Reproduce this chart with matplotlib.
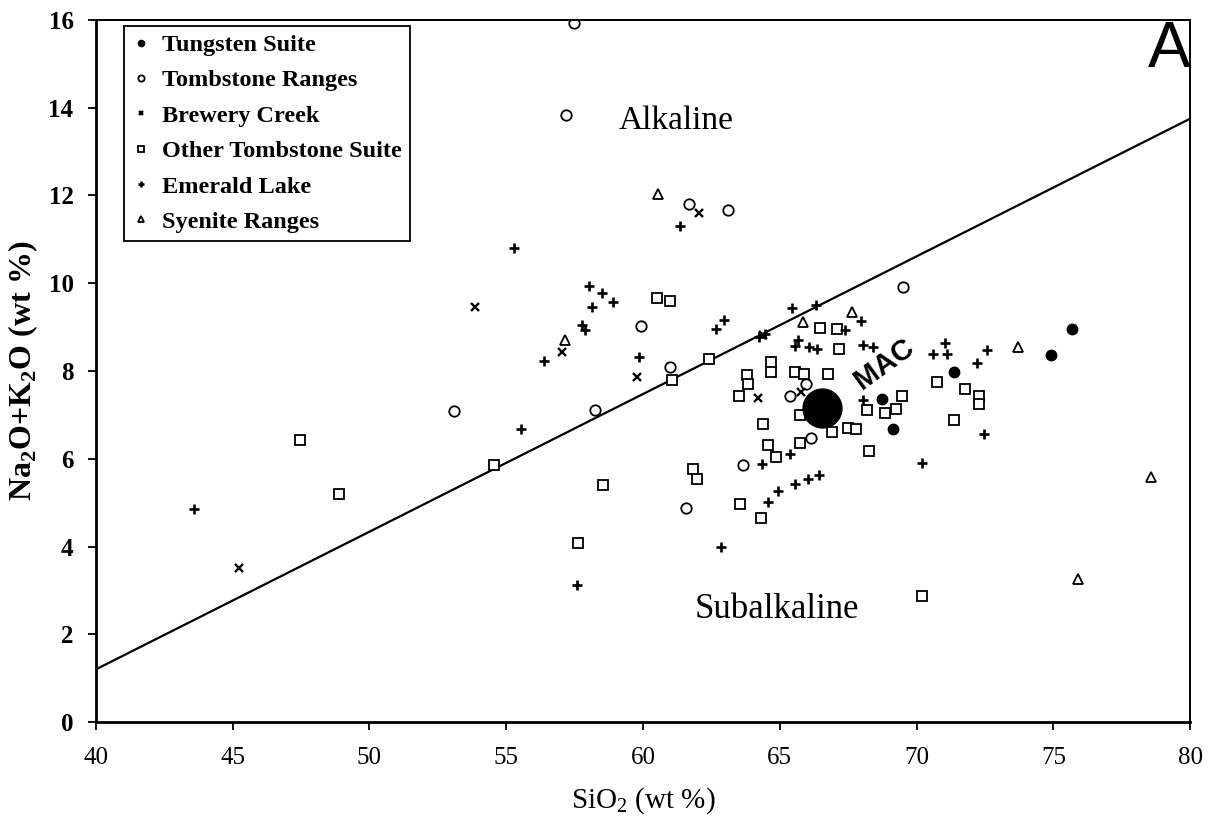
import matplotlib
matplotlib.use("Agg")
import matplotlib.pyplot as plt

plt.rcParams['font.family'] = ['Liberation Serif', 'DejaVu Serif']
plt.rcParams['mathtext.fontset'] = 'custom'
plt.rcParams['mathtext.rm'] = 'Liberation Serif'
plt.rcParams['mathtext.bf'] = 'Liberation Serif:bold'

# Tungsten Suite (filled circles)
tungsten_x = [68.72, 69.13, 71.38, 74.92, 75.67]
tungsten_y = [7.37, 6.67, 7.98, 8.36, 8.95]

# Tombstone Ranges (open circles)
tombstone_x = [57.48, 57.2, 61.68, 63.1, 59.94, 69.52, 53.1, 58.24, 61.0,
               65.96, 65.37, 61.57, 63.64, 66.14]
tombstone_y = [15.92, 13.83, 11.80, 11.66, 9.03, 9.92, 7.09, 7.12, 8.08,
               7.70, 7.43, 4.87, 5.85, 6.48]

# Brewery Creek (x)
brewery_x = [62.05, 53.86, 57.05, 59.77, 64.2, 65.76, 45.24, 64.4]
brewery_y = [11.59, 9.45, 8.44, 7.87, 7.39, 7.52, 3.50, 8.82]

# Other Tombstone Suite (open squares)
other_x = [60.5, 61.0, 62.42, 61.07, 63.79, 63.85, 63.51, 64.68, 64.68,
           65.56, 65.9, 66.75, 66.47, 67.08, 67.17, 64.37, 65.74, 64.58,
           64.86, 65.74, 61.84, 61.96, 58.55, 63.55, 64.3, 66.92, 67.5,
           67.8, 68.27, 69.45, 69.24, 68.85, 68.18, 70.74, 71.35, 71.77,
           72.28, 72.29, 70.19, 57.63, 54.56, 47.46, 48.88]
other_y = [9.67, 9.59, 8.28, 7.79, 7.90, 7.71, 7.43, 8.20, 7.98,
           7.98, 7.94, 7.94, 8.99, 8.95, 8.50, 6.79, 6.99, 6.31,
           6.04, 6.36, 5.76, 5.55, 5.40, 4.97, 4.66, 6.61, 6.71,
           6.69, 6.17, 7.43, 7.14, 7.05, 7.11, 7.75, 6.89, 7.58,
           7.43, 7.24, 2.87, 4.09, 5.85, 6.42, 5.19]

# Emerald Lake (+)
emerald_x = [61.36, 55.28, 58.04, 58.5, 58.9, 58.15, 57.76, 57.88, 56.37,
             62.68, 62.96, 59.84, 65.43, 66.33, 64.25, 64.45, 67.38, 67.97,
             65.68, 65.56, 66.08, 66.35, 68.05, 68.42, 71.04, 70.6, 71.1,
             72.59, 72.22, 68.05, 72.48, 70.19, 65.37, 64.36, 64.58, 64.92,
             65.56, 66.04, 66.45, 55.53, 43.58, 62.87, 57.58]
emerald_y = [11.31, 10.81, 9.94, 9.78, 9.57, 9.45, 9.04, 8.93, 8.22,
             8.95, 9.16, 8.32, 9.44, 9.50, 8.78, 8.85, 8.93, 9.14,
             8.70, 8.56, 8.55, 8.51, 8.59, 8.55, 8.63, 8.39, 8.39,
             8.47, 8.18, 7.33, 6.56, 5.91, 6.12, 5.88, 5.02, 5.27,
             5.42, 5.53, 5.63, 6.67, 4.85, 3.98, 3.12]

# Syenite Ranges (triangles)
syenite_x = [60.56, 57.16, 65.86, 67.65, 73.7, 78.56, 75.9]
syenite_y = [12.04, 8.70, 9.12, 9.35, 8.55, 5.59, 3.25]

# MAC average
mac_x = [66.55]
mac_y = [7.15]

# alkaline / subalkaline divide
line_x = [40, 80]
line_y = [1.2, 13.75]

fig = plt.figure(figsize=(12.12, 8.3), dpi=100)
ax = fig.add_axes([0.079, 0.130, 0.903, 0.846])

ms = 7.5
mew = 1.3
ax.plot(line_x, line_y, color='black', lw=1.6, zorder=1)
ax.plot(tungsten_x, tungsten_y, 'o', color='black', ms=ms, label='Tungsten Suite')
ax.plot(tombstone_x, tombstone_y, 'o', mfc='white', mec='black', mew=mew, ms=ms,
        label='Tombstone Ranges')
ax.plot(brewery_x, brewery_y, 'x', color='black', mew=mew + 0.4, ms=ms - 1.5,
        label='Brewery Creek')
ax.plot(other_x, other_y, 's', mfc='white', mec='black', mew=mew, ms=ms,
        label='Other Tombstone Suite')
ax.plot(emerald_x, emerald_y, '+', color='black', mew=mew + 0.6, ms=ms - 1,
        label='Emerald Lake')
ax.plot(syenite_x, syenite_y, '^', mfc='white', mec='black', mew=mew, ms=ms,
        label='Syenite Ranges')
ax.plot(mac_x, mac_y, 'o', color='black', ms=28, zorder=5)

ax.set_xlim(40, 80)
ax.set_ylim(0, 16)
ax.set_xticks(range(40, 81, 5))
ax.set_yticks(range(0, 17, 2))
ax.tick_params(direction='out', length=6, width=1.3, labelsize=18)
ax.tick_params(axis='x', pad=12)
ax.tick_params(axis='y', pad=10)
for lab in ax.get_yticklabels():
    lab.set_fontweight('bold')
for side in ['left', 'bottom']:
    ax.spines[side].set_linewidth(2)
for side in ['top', 'right']:
    ax.spines[side].set_linewidth(1.4)

ax.set_xlabel('SiO$_2$ (wt %)', fontsize=21, labelpad=12)
ax.set_ylabel(r'Na$_\mathbf{2}$O+K$_\mathbf{2}$O (wt %)', fontsize=23,
              fontweight='bold', labelpad=6)

ax.text(61.2, 13.7, 'Alkaline', fontsize=24, ha='center', va='center')
ax.text(64.9, 2.57, 'Subalkaline', fontsize=25, ha='center', va='center')
ax.text(68.8, 8.15, 'MAC', fontsize=21, fontweight='bold', rotation=36,
        family='Liberation Sans', ha='center', va='center')
ax.text(1.0, 1.0, 'A', transform=ax.transAxes, fontsize=46,
        family='Liberation Sans', ha='right', va='top')

leg = ax.legend(loc='upper left', bbox_to_anchor=(0.026, 0.992), borderaxespad=0,
                prop={'size': 17.5, 'weight': 'bold'}, markerscale=0.6,
                handlelength=0.7, handletextpad=0.5, labelspacing=0.55,
                borderpad=0.35, fancybox=False, edgecolor='black', framealpha=1)
leg.get_frame().set_linewidth(1.3)

fig.savefig('out.png', dpi=100)
